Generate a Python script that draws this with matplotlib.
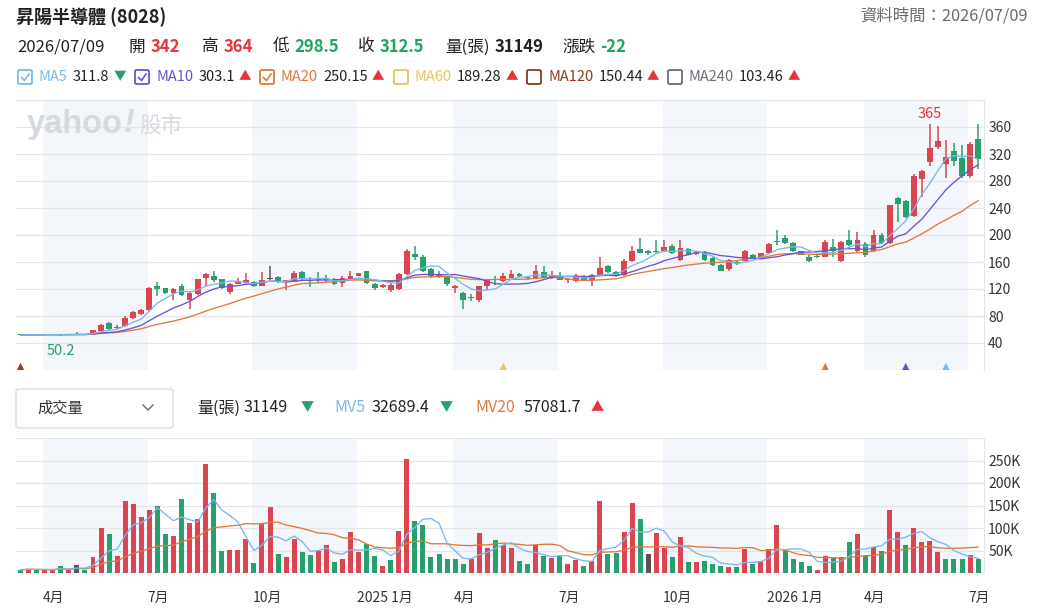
import numpy as np
import pandas as pd
import matplotlib.pyplot as plt
import matplotlib.patches as mpatches
import matplotlib.transforms as mtransforms
from matplotlib.lines import Line2D

plt.rcParams['font.family'] = ['Noto Sans CJK TC', 'DejaVu Sans']

# weekly candles, oldest first (price in NT$, volume in thousand lots)
opens = [52.3, 52.0, 52.4, 52.0, 52.4, 52.6, 52.3, 53.6, 53.0, 52.6,
         58.5, 69.5, 62, 65, 77.5, 82.5, 88.5, 124, 121, 113.5,
         124, 103, 112, 137, 140, 134.5, 115.5, 128, 129, 131,
         125, 135, 137.5, 130, 131, 145.5, 134, 135, 136, 135,
         129, 133, 140, 146, 128, 123, 119, 120, 142, 172,
         167, 149, 142, 139, 122, 114, 108, 104, 124, 134,
         132, 137, 142, 138, 136, 145, 136, 140, 133, 132,
         140, 134, 141, 154, 145, 141, 161, 179, 176, 177,
         176, 184, 163, 180, 172, 175, 166, 156, 149, 160,
         162, 171, 168, 173, 191, 196, 188, 176, 168, 169,
         168, 182, 161, 192, 176, 187, 176, 200, 188, 255,
         251, 228, 283, 308, 330, 305, 324, 314, 287, 342]
highs = [52.6, 52.8, 52.6, 53.2, 53.3, 52.9, 53.8, 56.0, 53.5, 60,
         68, 71, 66, 79.5, 88, 91, 122.5, 131, 122, 121,
         127, 116, 135.5, 143, 147, 135, 128.5, 136, 143, 132,
         145, 154.5, 139, 134, 146, 147, 138, 145, 141, 136,
         139, 147, 144, 147, 129, 127.5, 129, 143, 179, 184,
         170, 151, 146, 140, 126, 115, 112, 125, 135, 140,
         143, 148, 143, 139.5, 155, 154, 147, 145, 136, 142,
         141, 142, 168, 155, 146, 165, 183, 195.5, 178, 192,
         192, 186, 192, 181, 176, 177, 167, 157, 165, 162,
         178, 172, 174, 188, 207, 200, 189, 177, 170, 172,
         193, 194.5, 191, 207, 205, 189, 207, 203, 245, 257,
         252, 290, 296, 365, 361, 341, 337, 334, 338, 364]
lows = [51.8, 51.8, 51.9, 51.5, 51.6, 50.2, 52.0, 52.5, 52.4, 52.2,
        57.5, 60, 60, 64, 76, 81, 87.5, 109, 112, 104,
        110, 91, 111, 125, 131, 120, 113, 127, 128, 123,
        124, 133.5, 129, 118, 130, 133, 123, 130, 131, 126,
        123, 132, 139, 128, 119, 122, 115, 119, 141, 163,
        145, 137, 136, 125, 114, 91, 102, 101, 119, 126,
        131, 136, 138, 134, 135, 136, 135, 133, 129, 131,
        132, 125, 140, 144, 138, 140, 160, 173, 171, 173,
        175, 172, 161, 170, 170, 162, 154, 146, 147, 156,
        161, 165, 166, 172, 185.5, 186, 175, 170, 160, 166,
        167, 168, 160, 183, 174, 168, 175, 187, 187, 219,
        225, 226, 257, 302, 328, 285, 302, 285, 285, 298.5]
closes = [52.0, 52.4, 52.1, 52.5, 52.7, 52.3, 53.0, 53.0, 52.8, 59.2,
          67, 61, 63, 77.5, 86, 89.5, 121.5, 120, 113.5, 120,
          111, 114, 134.5, 142, 133, 122, 128, 132, 133, 124,
          134, 135, 130, 133, 144, 135, 132, 133, 134, 127.5,
          136, 139, 143, 129, 121, 126.5, 126, 142, 176, 167,
          146, 140, 139, 127, 125, 104, 106, 124, 134, 133,
          139, 142.5, 139, 137, 147, 137, 141, 134, 135, 140,
          133, 141, 151, 145, 139, 162, 177, 174, 174, 175,
          182, 173, 181, 171, 174, 163, 155, 147, 163, 159,
          176, 166, 173, 187, 189, 188, 176, 171, 162, 168,
          190, 177, 190, 185, 192, 170, 200, 188, 244, 246,
          226, 288, 295, 329, 339, 315, 310, 287, 334.5, 312.5]
volumes = [7, 9.7, 7, 7, 7, 15.6, 7, 18.6, 6, 35.7,
           99, 86, 38.7, 159, 153, 123.5, 141, 149, 86, 82,
           164, 112, 121, 242.5, 177, 48, 50.6, 50.6, 76.6, 23,
           108.6, 146.6, 43, 35.7, 76.6, 46, 41, 50, 61.8, 23.8,
           31, 91.5, 46, 65.5, 38.7, 15.6, 28.3, 93.7, 253.7, 116,
           106, 35.7, 43, 31, 31, 20.8, 32, 88.5, 56.5, 73.7,
           61.8, 56.5, 26, 20.8, 63, 37, 33.5, 38, 20.8, 28.3,
           15.6, 26, 159, 43, 44.6, 90.8, 156, 121, 43, 87.8,
           55.8, 35.7, 78.9, 23.8, 23.8, 26, 20.8, 16.4, 13.4, 13.4,
           52.8, 20.8, 26.8, 52.8, 106, 52.8, 31, 23.8, 16.4, 6,
           38.7, 35.7, 35.7, 68.4, 86.3, 41, 58, 48.4, 139, 90.8,
           61.8, 100, 68.4, 71.4, 46, 31.5, 31, 30.5, 40, 31.149]

# first bar of each quarter-month label and the label text
month_idx = [3, 16, 29, 42, 54, 67, 80, 93, 105, 118]
month_labels = ['4月', '7月', '10月', '2025 1月', '4月', '7月', '10月', '2026 1月', '4月', '7月']

# small signal triangles under the price pane
signal_idx = [0, 60, 100, 110, 115]
signal_colors = ['#8E3B1F', '#E8C35A', '#E0783A', '#6B52D1', '#7AB8EA']

RED = '#DC4450'
GREEN = '#28A06C'
GREY = '#555555'
BAND = '#F3F6FA'
GRID = '#E3E5E8'
C_MA5, C_MA10, C_MA20 = '#7AB8EA', '#6B52D1', '#E0783A'
TXT_RED, TXT_GREEN = '#E8333B', '#1FA463'

O = np.array(opens, float)
Hh = np.array(highs, float)
Lo = np.array(lows, float)
C = np.array(closes, float)
V = np.array(volumes, float)
x = np.arange(len(C))

W, H = 1037, 609
fig = plt.figure(figsize=(W / 100, H / 100), dpi=100)


def fx(px):
    return px / W


def fy(py):
    return 1 - py / H


def ftxt(px, py, s, **kw):
    kw.setdefault('va', 'center')
    return fig.text(fx(px), fy(py), s, **kw)


def after(t, gap, py, s, **kw):
    # put a text right after another one
    fig.canvas.draw()
    bb = t.get_window_extent()
    kw.setdefault('va', 'center')
    return fig.text((bb.x1 + gap) / W, fy(py), s, **kw)


ax = fig.add_axes([fx(16), fy(370), (984 - 16) / W, (370 - 100) / H])
axv = fig.add_axes([fx(16), fy(573), (984 - 16) / W, (573 - 438) / H])
xlim = (-0.57, 119.73)

for a in (ax, axv):
    a.set_xlim(*xlim)
    for k in range(0, len(month_idx) - 1, 2):
        a.axvspan(month_idx[k] - 0.2, month_idx[k + 1] - 0.2, color=BAND, lw=0, zorder=0)
    for s in ('top', 'left', 'bottom'):
        a.spines[s].set_visible(False)
    a.spines['right'].set_color(GRID)
    a.set_xticks([])
    a.yaxis.tick_right()
    a.tick_params(axis='y', length=0, pad=3, labelsize=10, labelcolor='#333333')

# ---- price pane ----
ax.set_ylim(0, 400)
for v in range(0, 401, 40):
    ax.axhline(v, color=GRID, lw=0.9, zorder=1)
ax.set_yticks(range(40, 361, 40))

cols = np.where(C > O, RED, np.where(C < O, GREEN, GREY))
ax.vlines(x, Lo, Hh, colors=cols, lw=1.1, zorder=3)
body = np.maximum(np.abs(C - O), 0.8)
ax.bar(x, body, bottom=np.minimum(O, C), width=0.72, color=cols, lw=0, zorder=4)

cs = pd.Series(C)
ax.plot(x, cs.rolling(20, min_periods=1).mean(), color=C_MA20, lw=0.95, zorder=5)
ax.plot(x, cs.rolling(10, min_periods=1).mean(), color=C_MA10, lw=0.95, zorder=5)
ax.plot(x, cs.rolling(5, min_periods=1).mean(), color=C_MA5, lw=0.95, zorder=5)

ax.scatter(signal_idx, [5] * len(signal_idx), marker='^', s=30, c=signal_colors, zorder=6, lw=0)

imax = int(np.argmax(Hh))
imin = int(np.argmin(Lo))
ax.annotate(f'{Hh[imax]:g}', (imax, Hh[imax]), xytext=(0, 2), textcoords='offset points',
            ha='center', va='bottom', color=TXT_RED, fontsize=10.5)
ax.annotate(f'{Lo[imin]:g}', (imin, Lo[imin]), xytext=(0, -6), textcoords='offset points',
            ha='center', va='top', color=GREEN, fontsize=10.5)

# watermark
WM = '#D6D9DE'
wm = ftxt(27, 125, 'yahoo', color=WM, fontsize=23.5, fontweight='bold',
          family=['Liberation Sans', 'DejaVu Sans'])
wm2 = after(wm, 1, 123, '!', color=WM, fontsize=23.5, fontweight='bold', fontstyle='italic',
            family=['Liberation Sans', 'DejaVu Sans'])
after(wm2, 4, 126, '股市', color=WM, fontsize=15.5)

# ---- volume pane ----
axv.set_ylim(0, 300)
for v in range(0, 301, 50):
    axv.axhline(v, color=GRID, lw=0.9, zorder=1)
axv.set_yticks(range(50, 251, 50))
axv.set_yticklabels([f'{v}K' for v in range(50, 251, 50)])

prev = np.concatenate([[O[0]], C[:-1]])
vcols = np.where(C > prev, RED, np.where(C < prev, GREEN, GREY))
axv.bar(x, V, width=0.62, color=vcols, lw=0, zorder=3)
vs = pd.Series(V)
axv.plot(x, vs.rolling(20, min_periods=1).mean(), color=C_MA20, lw=0.95, zorder=4)
axv.plot(x, vs.rolling(5, min_periods=1).mean(), color=C_MA5, lw=0.95, zorder=4)

trans = mtransforms.blended_transform_factory(axv.transData, axv.transAxes)
for i, lab in zip(month_idx, month_labels):
    axv.text(i - 0.2, -0.185, lab, transform=trans, ha='left', va='center',
             fontsize=10, color='#333333')

# ---- header ----
ftxt(16, 17, '昇陽半導體 (8028)', fontsize=13, fontweight='bold', color='#222222')
ftxt(1028, 16, '資料時間：2026/07/09', fontsize=11.8, color='#6B6B6B', ha='right')

ftxt(17, 47, '2026/07/09', fontsize=12, color='#222222')
row2 = [(129, '開', '342', TXT_RED), (202, '高', '364', TXT_RED),
        (273, '低', '298.5', TXT_GREEN), (358, '收', '312.5', TXT_GREEN),
        (445, '量(張)', '31149', '#222222'), (562, '漲跌', '-22', TXT_GREEN)]
for px, lab, val, c in row2:
    t = ftxt(px, 47, lab, fontsize=12, color='#222222')
    after(t, 5, 47, val, fontsize=12, color=c, fontweight='bold')

legend = [(17, 'MA5', '311.8', '▼', C_MA5, True),
          (134, 'MA10', '303.1', '▲', C_MA10, True),
          (259, 'MA20', '250.15', '▲', C_MA20, True),
          (393, 'MA60', '189.28', '▲', '#E8C35A', False),
          (526, 'MA120', '150.44', '▲', '#8E3B1F', False),
          (667, 'MA240', '103.46', '▲', '#6B7079', False)]
for px, name, val, arrow, c, checked in legend:
    box = mpatches.FancyBboxPatch((fx(px + 1), fy(84)), 14 / W, 14 / H,
                                  boxstyle='round,pad=0,rounding_size=0.002',
                                  transform=fig.transFigure, fill=False, ec=c, lw=1.3)
    fig.patches.append(box)
    if checked:
        fig.add_artist(Line2D([fx(px + 4.5), fx(px + 7.5), fx(px + 12)],
                              [fy(77.5), fy(80.5), fy(74)], color=c, lw=1.2))
    t = ftxt(px + 22, 77, name, fontsize=10.5, color=c)
    t2 = after(t, 5, 77, val, fontsize=10.5, color='#222222')
    after(t2, 4, 77, arrow, fontsize=9, color=GREEN if arrow == '▼' else TXT_RED)

# volume header row
drop = mpatches.FancyBboxPatch((fx(16), fy(428)), 157 / W, 39 / H,
                               boxstyle='round,pad=0,rounding_size=0.004',
                               transform=fig.transFigure, fill=False, ec='#DADDE1', lw=1.0)
fig.patches.append(drop)
ftxt(37, 408, '成交量', fontsize=11, color='#333333')
fig.add_artist(Line2D([fx(143), fx(148), fx(153)], [fy(405), fy(410), fy(405)],
                      color='#666666', lw=1.0))

vrow = [(197, '量(張)', '#222222'), (243, '31149', '#222222'), (301, '▼', GREEN),
        (334, 'MV5', C_MA5), (372, '32689.4', '#222222'), (440, '▼', GREEN),
        (475, 'MV20', C_MA20), (524, '57081.7', '#222222'), (591, '▲', TXT_RED)]
for px, s, c in vrow:
    ftxt(px, 408, s, fontsize=11.5 if s not in '▲▼' else 9.5, color=c)

fig.savefig('out.png', dpi=100, facecolor='white')
